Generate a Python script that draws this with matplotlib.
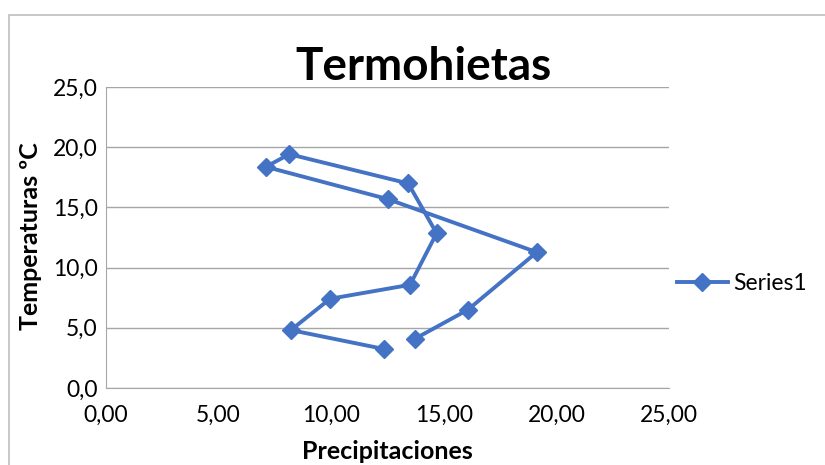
import matplotlib.pyplot as plt
from matplotlib.patches import Rectangle
from matplotlib.ticker import FuncFormatter

# precipitation (x) and temperature (y), month by month
precipitaciones = [12.34, 8.21, 9.95, 13.50, 14.68, 13.42, 8.14, 7.10, 12.51, 19.13, 16.07, 13.72]
temperaturas = [3.24, 4.81, 7.41, 8.57, 12.85, 16.99, 19.42, 18.37, 15.69, 11.28, 6.50, 4.09]
x_ticks = [0, 5, 10, 15, 20, 25]
y_ticks = [0, 5, 10, 15, 20, 25]

plt.rcParams['font.family'] = ['Lato', 'DejaVu Sans']

fig = plt.figure(figsize=(8.25, 4.65), dpi=100)
W, H = 825, 465

# chart border (cut off on the right and bottom)
fig.patches.append(Rectangle((9 / W, -0.1), 1.2, 1 - 15 / H + 0.1, transform=fig.transFigure,
                             fill=False, edgecolor='#BFBFBF', linewidth=1.2))

ax = fig.add_axes([106 / W, 1 - 388 / H, (669 - 106) / W, (388 - 87) / H])
ax.plot(precipitaciones, temperaturas, color='#4472C4', linewidth=2.8,
        marker='D', markersize=9.5, label='Series1')

ax.set_xlim(0, 25)
ax.set_ylim(0, 25)
ax.set_xticks(x_ticks)
ax.set_yticks(y_ticks)
ax.xaxis.set_major_formatter(FuncFormatter(lambda v, p: f'{v:.2f}'.replace('.', ',')))
ax.yaxis.set_major_formatter(FuncFormatter(lambda v, p: f'{v:.1f}'.replace('.', ',')))
ax.tick_params(length=0, labelsize=16.5, colors='#000000')
ax.tick_params(axis='x', pad=12)
ax.tick_params(axis='y', pad=6)

ax.grid(axis='y', color='#A6A6A6', linewidth=1)
ax.set_axisbelow(True)
for s in ['top', 'right']:
    ax.spines[s].set_visible(False)
ax.spines['left'].set_color('#A6A6A6')
ax.spines['bottom'].set_color('#A6A6A6')

fig.text(424 / W, 1 - 67 / H, 'Termohietas', ha='center', va='center',
         fontsize=33, fontweight='bold')
fig.text(387 / W, 1 - 451 / H, 'Precipitaciones', ha='center', va='center',
         fontsize=18, fontweight='bold')
fig.text(31 / W, 1 - 236 / H, 'Temperaturas ºC', ha='center', va='center',
         rotation=90, fontsize=18, fontweight='bold')

ax.legend(loc='center left', bbox_to_anchor=(0.99, 1 - (284 - 87) / (388 - 87)),
          frameon=False, fontsize=16.5, handlelength=2.2, handletextpad=0.25,
          borderaxespad=0.2)

fig.savefig('out.png', dpi=100)
